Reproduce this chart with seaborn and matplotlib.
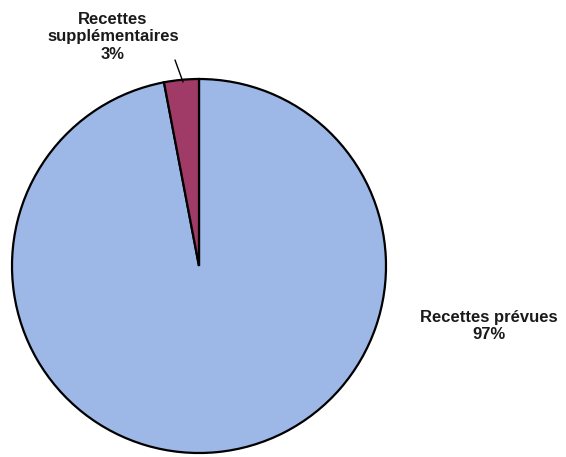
import matplotlib
matplotlib.use("Agg")
import matplotlib.pyplot as plt
import seaborn as sns

# data
labels = ["Recettes prévues", "Recettes supplémentaires"]
shares = [97, 3]
colors = ["#9db8e6", "#a03a66"]

sns.set_theme(style="white")
plt.rcParams['font.family'] = ['Liberation Sans', 'DejaVu Sans']

W, H = 566, 457
fig = plt.figure(figsize=(W / 100, H / 100), dpi=100)
ax = fig.add_axes([0, 0, 1, 1])

ax.pie(shares, colors=colors, startangle=90, counterclock=False,
       center=(199, H - 266), radius=187,
       wedgeprops=dict(edgecolor="black", linewidth=1.6))
ax.set_xlim(0, W)
ax.set_ylim(0, H)
ax.set_aspect("equal")
ax.axis("off")

# labels with percentages
ax.text(113, H - 37, "Recettes\nsupplémentaires\n" + f"{shares[1]}%", ha="center", va="center",
        fontsize=12, fontweight="bold", linespacing=1.2, color="#1a1a1a")
ax.text(489, H - 326, f"{labels[0]}\n{shares[0]}%", ha="center", va="center",
        fontsize=12, fontweight="bold", linespacing=1.2, color="#1a1a1a")
ax.plot([175, 183], [H - 60, H - 82], color="black", linewidth=1)

fig.savefig("out.png", dpi=100)
